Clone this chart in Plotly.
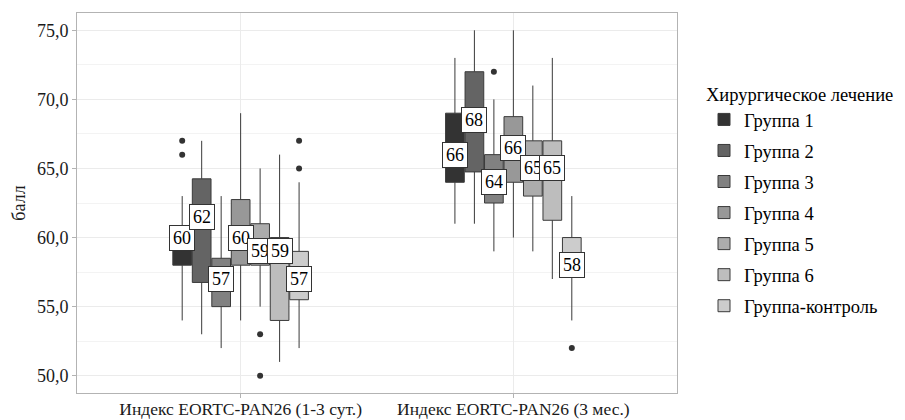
import plotly.graph_objects as go

categories = ['Индекс EORTC-PAN26 (1-3 сут.)', 'Индекс EORTC-PAN26 (3 мес.)']
groups = ['Группа 1', 'Группа 2', 'Группа 3', 'Группа 4', 'Группа 5', 'Группа 6', 'Группа-контроль']
colors = ['#333333', '#646464', '#818181', '#989898', '#ACACAC', '#BDBDBD', '#CCCCCC']

# per group: [category 1, category 2]
lower_whisker = [[54, 61], [53, 61], [52, 59], [54, 60], [55, 59], [51, 57], [52, 54]]
q1_vals = [[58, 64], [56.75, 64.75], [55, 62.5], [58, 64], [58, 63], [54, 61.25], [55.5, 58]]
median_vals = [[60, 66], [61.5, 68.5], [57, 64], [60, 66.5], [59, 65], [59, 65], [57, 58]]
q3_vals = [[60, 69], [64.25, 72], [58.5, 66], [62.75, 68.75], [61, 67], [60, 67], [59, 60]]
upper_whisker = [[63, 73], [67, 75], [63, 70], [69, 75], [65, 71], [66, 73], [64, 63]]
outliers = [[[67, 66], []], [[], []], [[], [72]], [[], []], [[53, 50], []], [[], []], [[67, 65], [52]]]

FONT = 'Liberation Serif'
n = len(groups)
dodge = 0.5
step = dodge / n

fig = go.Figure()
annotations = []
for g in range(n):
    pos = [c + 1 + (g - (n - 1) / 2) * step for c in range(len(categories))]
    fig.add_trace(go.Box(
        x=pos, q1=q1_vals[g], median=median_vals[g], q3=q3_vals[g],
        lowerfence=lower_whisker[g], upperfence=upper_whisker[g],
        orientation='v', width=step * 0.96, whiskerwidth=0,
        fillcolor=colors[g], line=dict(color='#3a3a3a', width=1),
        name=groups[g], legendgroup=groups[g], boxpoints=False,
        hoverinfo='skip'))
    ox, oy = [], []
    for c in range(len(categories)):
        for v in outliers[g][c]:
            ox.append(pos[c])
            oy.append(v)
    if ox:
        fig.add_trace(go.Scatter(x=ox, y=oy, mode='markers',
                                 marker=dict(color='#333333', size=6),
                                 showlegend=False, legendgroup=groups[g], hoverinfo='skip'))
    for c in range(len(categories)):
        annotations.append(dict(
            x=pos[c], y=median_vals[g][c], xref='x', yref='y',
            text=str(round(median_vals[g][c])), showarrow=False,
            font=dict(family=FONT, size=18, color='#000000'),
            width=20,
            bgcolor='white', bordercolor='#333333', borderwidth=1, borderpad=2))

fig.update_layout(
    width=897, height=412,
    margin=dict(l=69, r=228, t=5, b=27),
    paper_bgcolor='white', plot_bgcolor='white',
    separators=', ',
    font=dict(family=FONT, size=17, color='#333333'),
    annotations=annotations,
    showlegend=True,
    legend=dict(
        title=dict(text='Хирургическое лечение', font=dict(family=FONT, size=18.5, color='#000000')),
        font=dict(family=FONT, size=18.5, color='#000000'),
        x=1.045, xanchor='left', y=0.832, yanchor='top',
        traceorder='grouped', tracegroupgap=4,
        bgcolor='rgba(0,0,0,0)'),
    xaxis=dict(
        range=[0.4, 2.6], tickmode='array', tickvals=[1, 2], ticktext=categories,
        automargin=False, ticklabelstandoff=-4,
        showgrid=True, gridcolor='#ebebeb', gridwidth=1, zeroline=False,
        showline=True, mirror=True, linecolor='#b3b3b3', linewidth=1,
        ticks='outside', ticklen=4, tickcolor='#b3b3b3',
        tickfont=dict(family=FONT, size=17.5, color='#1a1a1a')),
    yaxis=dict(
        range=[48.75, 76.25], tick0=50, dtick=5, tickformat='.1f',
        automargin=False,
        showgrid=True, gridcolor='#ebebeb', gridwidth=1, zeroline=False,
        showline=True, mirror=True, linecolor='#b3b3b3', linewidth=1,
        ticks='outside', ticklen=4, tickcolor='#b3b3b3',
        minor=dict(tick0=50, dtick=2.5, showgrid=True, gridcolor='#f3f3f3', gridwidth=1),
        title=dict(text='балл', font=dict(family=FONT, size=18, color='#1a1a1a'), standoff=6),
        tickfont=dict(family=FONT, size=18, color='#1a1a1a')),
)

fig.write_html('out.html')
